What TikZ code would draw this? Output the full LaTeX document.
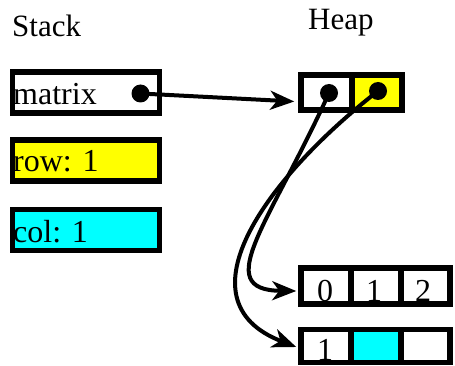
\documentclass[tikz,border=0pt]{standalone}
\usepackage{fontspec}
\setmainfont{Liberation Serif}
\usetikzlibrary{arrows.meta,calc}
\definecolor{cyanpure}{RGB}{0,255,255}
\definecolor{yellowpure}{RGB}{255,255,0}
\begin{document}
\begin{tikzpicture}[x=1pt,y=-1pt,
 box/.style={draw=black,line width=5.5pt,minimum width=147pt,minimum height=41pt,inner sep=0pt},
 cell/.style={draw=black,line width=5.5pt,minimum width=50pt,minimum height=36pt,inner sep=0pt},
 txt/.style={font=\fontsize{32}{36}\selectfont,inner sep=0pt},
 ttl/.style={font=\fontsize{31}{36}\selectfont,inner sep=0pt,anchor=base west},
 dot/.style={circle,fill=black,minimum size=18pt,inner sep=0pt},
 ptr/.style={line width=4pt,-{Stealth[length=24pt,width=19pt,inset=7pt]}}]
\useasboundingbox (0,0) rectangle (455,366);
% titles
\node[ttl] (stk) at (12,37) {Stack};
\node[ttl] (hp) at (308,30) {Heap};
% stack boxes
\node[box,fill=white] (mbox) at (86,92.5) {};
\node[box,fill=yellowpure] (rbox) at (86,160.5) {};
\node[box,fill=cyanpure] (cbox) at (86,230) {};
\node[txt,anchor=base west] (tm) at (13,105) {matrix};
\node[txt,anchor=base west] (tr) at (13,172) {row: 1};
\node[txt,anchor=base west] (tc) at (13,242) {col: 1};
% heap pointer array
\node[cell,minimum width=51pt,minimum height=35pt,fill=white] (h0) at (326.5,92.5) {};
\node[cell,minimum height=35pt,fill=yellowpure] (h1) at (377,92.5) {};
% row arrays
\node[cell] (a0) at (326,286) {};
\node[cell] (a1) at (376,286) {};
\node[cell,minimum width=49pt] (a2) at (425.5,286) {};
\node[cell,minimum height=33pt] (b0) at (326,346) {};
\node[cell,minimum height=33pt,fill=cyanpure] (b1) at (376,346) {};
\node[cell,minimum height=33pt,minimum width=49pt] (b2) at (425.5,346) {};
\node[txt,anchor=base] (ta0) at (325,301) {0};
\node[txt,anchor=base] (ta1) at (374,301) {1};
\node[txt,anchor=base] (ta2) at (423,301) {2};
\node[txt,anchor=base] (tb0) at (325,360) {1};
% dots
\node[dot] (md) at (140.5,93.5) {};
\node[dot] (d0) at (329,93) {};
\node[dot] (d1) at (378,91) {};
% pointers
\draw[ptr] (md.center) -- ($(h0.west)+(-4,9)$);
\draw[ptr] (d0.center) .. controls (270,223) and (210,290) .. ($(a0.west)+(-2,5)$);
\draw[ptr] (d1.center) .. controls (270,175) and (175,300) .. ($(b0.west)+(-2,1)$);
\end{tikzpicture}
\end{document}
